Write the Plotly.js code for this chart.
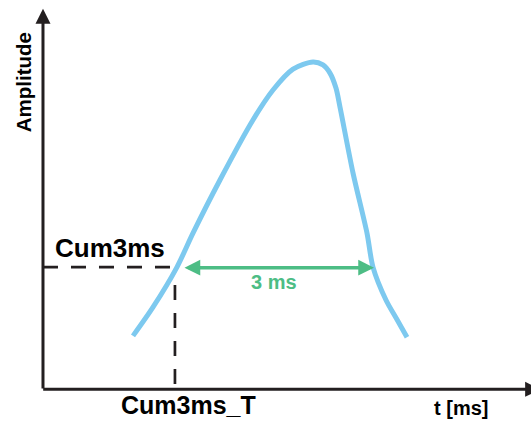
<!DOCTYPE html>
<html>
<head>
<meta charset="utf-8">
<script src="https://cdn.plot.ly/plotly-3.0.1.min.js"></script>
<style>html,body{margin:0;padding:0;background:#fff;}#chart{width:531px;height:421px;}</style>
</head>
<body>
<div id="chart"></div>
<script>
// Pulse curve: time [ms] vs normalised amplitude
const timeMs = [1.378, 1.684, 2.051, 2.296, 2.709, 3.214, 3.521, 3.827, 4.133, 4.286, 4.393, 4.485, 4.546, 4.745, 4.960, 5.051, 5.250, 5.410, 5.572];
const amplitude = [0.160, 0.248, 0.371, 0.475, 0.638, 0.822, 0.914, 0.978, 1.000, 0.991, 0.966, 0.920, 0.862, 0.660, 0.475, 0.371, 0.270, 0.213, 0.156];

// Marker values
const cum3msLevel = 0.371;     // amplitude at Cum3ms
const cum3msT = 2.02;          // time of Cum3ms_T
const spanStart = 2.143;       // green arrow start [ms]
const spanEnd = 5.067;         // green arrow end [ms]
const spanLabel = "3 ms";

// Labels
const yLabel = "Amplitude";
const xLabel = "t [ms]";
const levelLabel = "Cum3ms";
const timeLabel = "Cum3ms_T";

const axisColor = "#231f20";
const curveColor = "#7dc9ef";
const green = "#4dbd85";
const fontFam = "Liberation Sans, Arial, Helvetica, sans-serif";

const trace = {
  x: timeMs, y: amplitude, type: "scatter", mode: "lines",
  line: {color: curveColor, width: 5, shape: "spline", smoothing: 0.8},
  hoverinfo: "skip"
};

const layout = {
  width: 531, height: 421,
  margin: {l: 0, r: 0, t: 0, b: 0},
  paper_bgcolor: "#fff", plot_bgcolor: "#fff",
  showlegend: false,
  xaxis: {range: [-0.658, 7.470], visible: false, fixedrange: true},
  yaxis: {range: [-0.1012, 1.1902], visible: false, fixedrange: true},
  shapes: [
    {type: "line", xref: "x", yref: "y", x0: 0, x1: cum3msT, y0: cum3msLevel, y1: cum3msLevel,
     line: {color: axisColor, width: 2.7, dash: "15px,13px"}},
    {type: "line", xref: "x", yref: "y", x0: cum3msT, x1: cum3msT, y0: 0.316, y1: 0,
     line: {color: axisColor, width: 2.7, dash: "15px,13px"}}
  ],
  annotations: [
    // y axis with arrow
    {xref: "x", yref: "y", axref: "x", ayref: "y", x: 0, y: 1.163, ax: 0, ay: -0.006,
     text: "", showarrow: true, arrowhead: 2, arrowsize: 1.0, arrowwidth: 3, arrowcolor: axisColor, standoff: 0},
    // x axis with arrow
    {xref: "x", yref: "y", axref: "x", ayref: "y", x: 7.61, y: -0.004, ax: -0.02, ay: -0.004,
     text: "", showarrow: true, arrowhead: 2, arrowsize: 1.0, arrowwidth: 3, arrowcolor: axisColor, standoff: 0},
    // green span arrow
    {xref: "x", yref: "y", axref: "x", ayref: "y", x: spanEnd, y: cum3msLevel - 0.002, ax: spanStart, ay: cum3msLevel - 0.002,
     text: "", showarrow: true, arrowhead: 2, startarrowhead: 2, arrowside: "end+start",
     arrowsize: 0.9, startarrowsize: 0.9, arrowwidth: 3.5, arrowcolor: green, standoff: 0, startstandoff: 0},
    {xref: "x", yref: "y", x: 3.536, y: 0.325, text: "<b>" + spanLabel + "</b>", showarrow: false,
     font: {family: fontFam, size: 20, color: green}, xanchor: "center", yanchor: "middle"},
    {xref: "x", yref: "y", x: 1.026, y: 0.430, text: "<b>" + levelLabel + "</b>", showarrow: false,
     font: {family: fontFam, size: 26, color: "#000"}, xanchor: "center", yanchor: "middle"},
    {xref: "x", yref: "y", x: 2.22, y: -0.053, text: "<b>" + timeLabel + "</b>", showarrow: false,
     font: {family: fontFam, size: 25, color: "#000"}, xanchor: "center", yanchor: "middle"},
    {xref: "x", yref: "y", x: 6.40, y: -0.062, text: "<b>" + xLabel + "</b>", showarrow: false,
     font: {family: fontFam, size: 20, color: "#000"}, xanchor: "center", yanchor: "middle"},
    {xref: "x", yref: "y", x: -0.30, y: 0.939, text: "<b>" + yLabel + "</b>", showarrow: false, textangle: -90,
     font: {family: fontFam, size: 20.5, color: "#000"}, xanchor: "center", yanchor: "middle"}
  ]
};

Plotly.newPlot("chart", [trace], layout, {displayModeBar: false, staticPlot: true});
</script>
</body>
</html>
